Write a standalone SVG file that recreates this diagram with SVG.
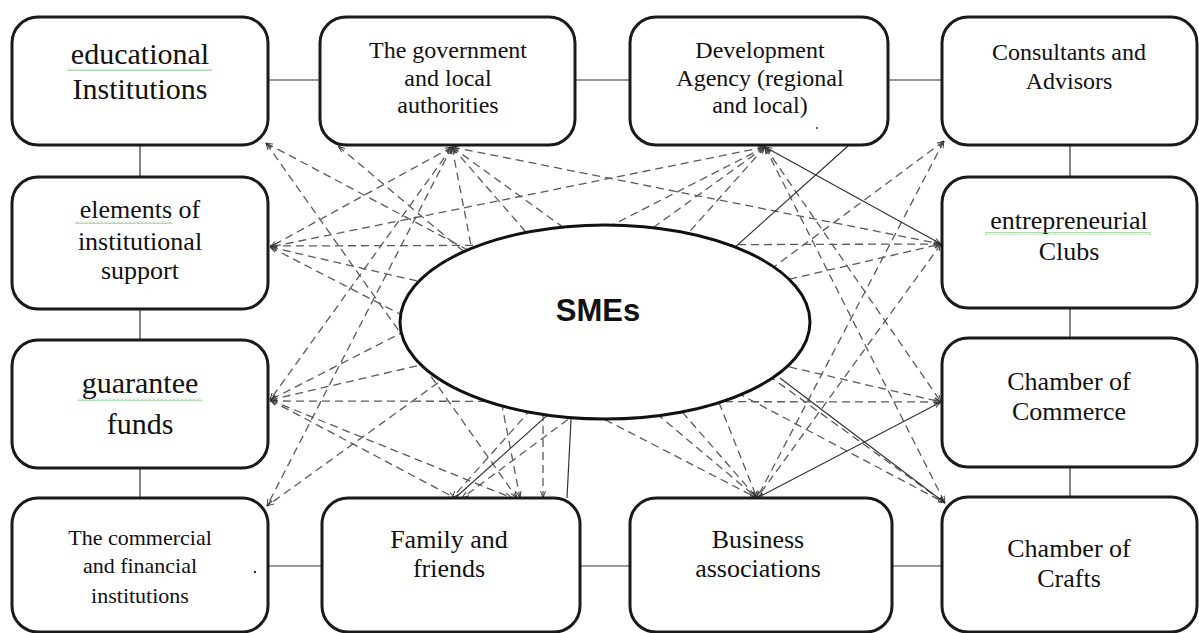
<svg xmlns="http://www.w3.org/2000/svg" width="1199" height="633" viewBox="0 0 1199 633">
<style>
.box{fill:#fff;stroke:#1a1a1a;stroke-width:3}
.t1{font-family:"Liberation Serif","Times New Roman",serif;font-size:24px;fill:#111;text-anchor:middle}
.t2{font-family:"Liberation Serif","Times New Roman",serif;font-size:26px;fill:#111;text-anchor:middle}
.t3{font-family:"Liberation Serif","Times New Roman",serif;font-size:30px;fill:#111;text-anchor:middle}
.t4{font-family:"Liberation Serif","Times New Roman",serif;font-size:22px;fill:#111;text-anchor:middle}
.ring{stroke:#333;stroke-width:1.2;fill:none}
.d{stroke:#5a5a5a;stroke-width:1.3;stroke-dasharray:8 5;fill:none}
.s{stroke:#333;stroke-width:1.2;fill:none}
.a2{marker-start:url(#ah);marker-end:url(#ah)}
.ae{marker-end:url(#ah)}
</style>
<defs>
<marker id="ah" viewBox="0 0 10 10" refX="10" refY="5" markerWidth="7" markerHeight="7" markerUnits="userSpaceOnUse" orient="auto-start-reverse">
<path d="M0,1.5 L10,5 L0,8.5" fill="none" stroke="#333" stroke-width="1.3"/>
</marker>
<pattern id="sq" width="4" height="3" patternUnits="userSpaceOnUse">
<path d="M0,2.5 L2,0.5 L4,2.5" stroke="#3a3" fill="none" stroke-width="0.8"/>
</pattern>
</defs>
<rect width="1199" height="633" fill="#fff"/>
<g id="connectors">
<line class="ring" x1="268" y1="80" x2="320" y2="80"/>
<line class="ring" x1="575" y1="80" x2="630" y2="80"/>
<line class="ring" x1="888" y1="80" x2="942" y2="80"/>
<line class="ring" x1="140" y1="145" x2="140" y2="177"/>
<line class="ring" x1="140" y1="309" x2="140" y2="340"/>
<line class="ring" x1="140" y1="468" x2="140" y2="498"/>
<line class="ring" x1="1070" y1="145" x2="1070" y2="177"/>
<line class="ring" x1="1070" y1="308" x2="1070" y2="338"/>
<line class="ring" x1="1070" y1="467" x2="1070" y2="497"/>
<line class="ring" x1="268" y1="566" x2="322" y2="566"/>
<line class="ring" x1="580" y1="566" x2="630" y2="566"/>
<line class="ring" x1="892" y1="566" x2="942" y2="566"/>

<line class="d a2" x1="266" y1="143" x2="945" y2="503"/>
<line class="d a2" x1="266" y1="143" x2="517" y2="498"/>
<line class="d a2" x1="452" y1="147" x2="270" y2="247"/>
<line class="d a2" x1="452" y1="147" x2="270" y2="400"/>
<line class="d a2" x1="452" y1="147" x2="267" y2="506"/>
<line class="d a2" x1="452" y1="147" x2="520" y2="498"/>
<line class="d a2" x1="452" y1="147" x2="941" y2="244"/>
<line class="d a2" x1="452" y1="147" x2="757" y2="498"/>
<line class="d a2" x1="452" y1="147" x2="945" y2="503"/>
<line class="d a2" x1="338" y1="146" x2="757" y2="498"/>
<line class="d a2" x1="765" y1="147" x2="270" y2="400"/>
<line class="d a2" x1="765" y1="147" x2="452" y2="498"/>
<line class="d a2" x1="765" y1="147" x2="945" y2="503"/>
<line class="d a2" x1="765" y1="147" x2="941" y2="402"/>
<line class="d a2" x1="765" y1="147" x2="270" y2="247"/>
<line class="d a2" x1="765" y1="147" x2="267" y2="506"/>
<line class="d a2" x1="944" y1="141" x2="757" y2="498"/>
<line class="d a2" x1="944" y1="141" x2="462" y2="498"/>
<line class="d a2" x1="270" y1="246" x2="941" y2="244"/>
<line class="d a2" x1="270" y1="247" x2="757" y2="498"/>
<line class="d a2" x1="270" y1="247" x2="941" y2="402"/>
<line class="d a2" x1="270" y1="401" x2="941" y2="402"/>
<line class="d a2" x1="270" y1="400" x2="941" y2="244"/>
<line class="d a2" x1="270" y1="400" x2="455" y2="498"/>
<line class="d a2" x1="270" y1="400" x2="512" y2="498"/>
<line class="d a2" x1="941" y1="244" x2="757" y2="498"/>
<line class="d ae" x1="690" y1="330" x2="757" y2="498"/>
<line class="d ae" x1="543" y1="400" x2="543" y2="498"/>

<line class="s a2" x1="765" y1="147" x2="941" y2="244"/>
<line class="s a2" x1="941" y1="402" x2="757" y2="498"/>
<line class="s" x1="455" y1="498" x2="848" y2="146"/>
<line class="s ae" x1="780" y1="378" x2="945" y2="503"/>
<line class="s" x1="572" y1="400" x2="567" y2="498"/>
</g>

<g id="smes">
<ellipse cx="605" cy="322" rx="205" ry="97" fill="#fff" stroke="#111" stroke-width="3"/>
<text x="598" y="321" font-family="'Liberation Sans',Arial,sans-serif" font-size="31" font-weight="bold" fill="#111" text-anchor="middle">SMEs</text>
</g>

<g id="educational">
<rect class="box" x="12" y="17" width="256" height="128" rx="26"/>
<text class="t3" x="140" y="64">educational</text>
<text class="t3" x="140" y="99">Institutions</text>
<rect x="67" y="68" width="145" height="3" fill="url(#sq)"/>
</g>
<g id="government">
<rect class="box" x="320" y="17" width="255" height="128" rx="26"/>
<text class="t1" x="448" y="58">The government</text>
<text class="t1" x="448" y="86">and local</text>
<text class="t1" x="448" y="113">authorities</text>
</g>
<g id="development">
<rect class="box" x="630" y="17" width="258" height="128" rx="26"/>
<text class="t1" x="760" y="58">Development</text>
<text class="t1" x="760" y="86">Agency (regional</text>
<text class="t1" x="760" y="113">and local)</text>
<circle cx="817" cy="128" r="1" fill="#333"/>
</g>
<g id="consultants">
<rect class="box" x="942" y="17" width="255" height="128" rx="26"/>
<text class="t1" x="1069" y="60">Consultants and</text>
<text class="t1" x="1069" y="89">Advisors</text>
</g>
<g id="elements">
<rect class="box" x="12" y="177" width="256" height="132" rx="26"/>
<text class="t2" x="140" y="218">elements of</text>
<text class="t2" x="140" y="250">institutional</text>
<text class="t2" x="140" y="279">support</text>
<rect x="75" y="221" width="97" height="3" fill="url(#sq)"/>
</g>
<g id="entrepreneurial">
<rect class="box" x="942" y="177" width="255" height="131" rx="26"/>
<text class="t2" x="1069" y="229">entrepreneurial</text>
<text class="t2" x="1069" y="260">Clubs</text>
<rect x="985" y="232" width="166" height="3" fill="url(#sq)"/>
</g>
<g id="guarantee">
<rect class="box" x="12" y="340" width="256" height="128" rx="26"/>
<text class="t3" x="140" y="393">guarantee</text>
<text class="t3" x="140" y="434">funds</text>
<rect x="78" y="398" width="124" height="3" fill="url(#sq)"/>
</g>
<g id="commerce">
<rect class="box" x="942" y="338" width="255" height="129" rx="26"/>
<text class="t2" x="1069" y="390">Chamber of</text>
<text class="t2" x="1069" y="420">Commerce</text>
</g>
<g id="commercial">
<rect class="box" x="12" y="498" width="256" height="134" rx="26"/>
<text class="t4" x="140" y="545">The commercial</text>
<text class="t4" x="140" y="573">and financial</text>
<text class="t4" x="140" y="603">institutions</text>
<circle cx="255" cy="572" r="1.2" fill="#333"/>
</g>
<g id="family">
<rect class="box" x="322" y="498" width="258" height="134" rx="26"/>
<text class="t2" x="449" y="548">Family and</text>
<text class="t2" x="449" y="577">friends</text>
</g>
<g id="business">
<rect class="box" x="630" y="498" width="262" height="134" rx="26"/>
<text class="t2" x="758" y="548">Business</text>
<text class="t2" x="758" y="577">associations</text>
</g>
<g id="crafts">
<rect class="box" x="942" y="497" width="255" height="135" rx="26"/>
<text class="t2" x="1069" y="557">Chamber of</text>
<text class="t2" x="1069" y="587">Crafts</text>
</g>
</svg>
